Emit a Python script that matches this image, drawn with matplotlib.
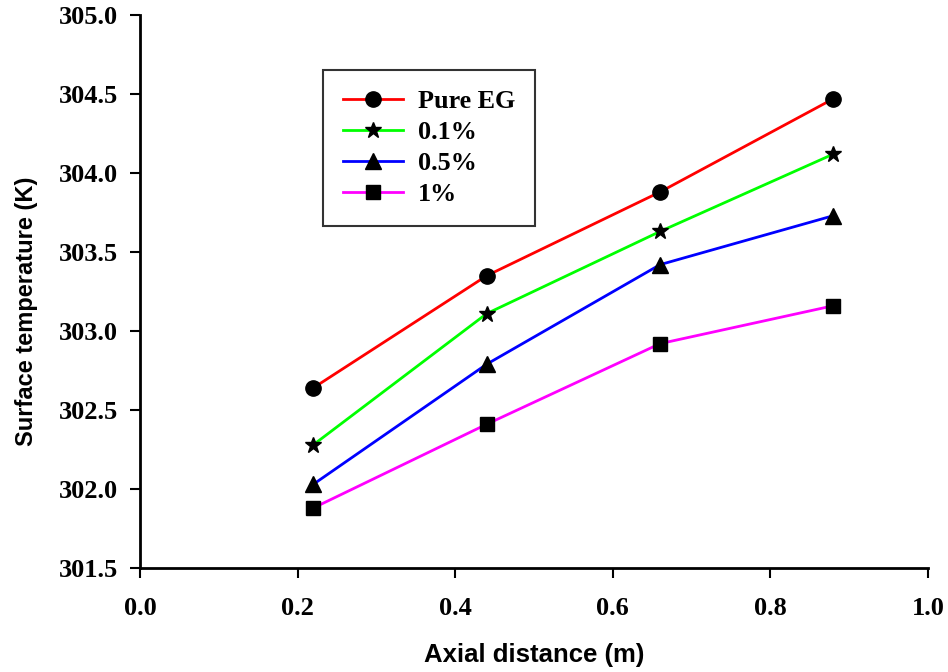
import matplotlib
matplotlib.use('Agg')
import matplotlib.pyplot as plt
import numpy as np

# axial positions (m)
axial = [0.22, 0.44, 0.66, 0.88]

# surface temperature (K)
pure_eg = [302.64, 303.35, 303.88, 304.47]
c01 = [302.28, 303.11, 303.63, 304.12]
c05 = [302.03, 302.79, 303.42, 303.73]
c1 = [301.88, 302.41, 302.92, 303.16]

labels = ['Pure EG', '0.1%', '0.5%', '1%']
colors = ['#ff0000', '#00ff00', '#0000ff', '#ff00ff']
markers = ['o', '*', '^', 's']
msizes = [11, 12, 11, 10]

serif = 'Liberation Serif'
sans = 'Liberation Sans'

fig = plt.figure(figsize=(9.48, 6.72), dpi=100)
ax = fig.add_axes([140/948, 1 - 568/672, 788/948, 553/672])

for y, lab, c, m, ms in zip([pure_eg, c01, c05, c1], labels, colors, markers, msizes):
    ax.plot(axial, y, color=c, lw=2, marker=m, ms=ms, mfc='black', mec='black', label=lab)

ax.set_xlim(0, 1.0)
ax.set_ylim(301.5, 305.0)
ax.set_xticks(np.arange(0, 1.01, 0.2))
ax.set_yticks(np.arange(301.5, 305.01, 0.5))
ax.set_xticklabels(['%.1f' % v for v in np.arange(0, 1.01, 0.2)])
ax.set_yticklabels(['%.1f' % v for v in np.arange(301.5, 305.01, 0.5)])

for s in ['top', 'right']:
    ax.spines[s].set_visible(False)
for s in ['left', 'bottom']:
    ax.spines[s].set_linewidth(2)
ax.tick_params(direction='out', length=7, width=1.5)
ax.tick_params(axis='x', pad=14)
ax.tick_params(axis='y', pad=9)
for t in ax.get_xticklabels() + ax.get_yticklabels():
    t.set_fontfamily(serif)
    t.set_fontweight('bold')
    t.set_fontsize(19)

ax.set_xlabel('Axial distance (m)', fontfamily=sans, fontweight='bold', fontsize=18.5)
ax.xaxis.set_label_coords(0.5, -(655 - 568) / 553, transform=ax.transAxes)
ax.set_ylabel('Surface temperature (K)', fontfamily=sans, fontweight='bold', fontsize=17)
ax.yaxis.set_label_coords((26 - 140) / 788, (568 - 311) / 553, transform=ax.transAxes)
ax.xaxis.label.set_va('center')
ax.yaxis.label.set_va('center')

leg = ax.legend(loc='upper left', bbox_to_anchor=(170/788, 1 - 42/553), frameon=True, fancybox=False,
                edgecolor='black', prop={'family': serif, 'weight': 'bold', 'size': 18.8},
                handlelength=2.3, handletextpad=0.6, labelspacing=0.3, borderpad=0.75)
leg.get_frame().set_linewidth(1.5)

plt.savefig('out.png', dpi=100)
